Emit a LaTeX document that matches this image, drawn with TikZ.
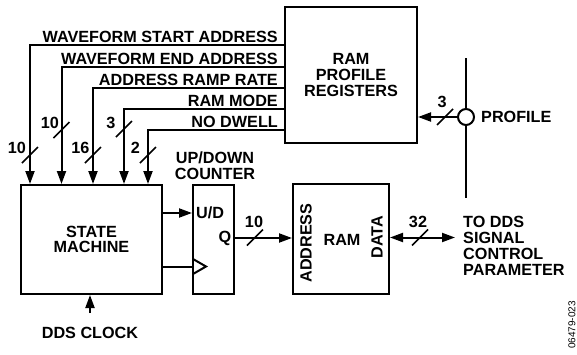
\documentclass[tikz,border=0pt]{standalone}
\usepackage{fontspec}
\setmainfont{Liberation Sans}
\usetikzlibrary{arrows.meta}
\begin{document}
\begin{tikzpicture}[x=1pt,y=-1pt,
  wire/.style={line width=2pt},
  arr/.style={wire,-{Triangle[length=13pt,width=9pt]}},
  darr/.style={wire,{Triangle[length=13pt,width=9pt]}-{Triangle[length=13pt,width=9pt]}},
  blk/.style={draw,line width=2pt,inner sep=0pt,minimum width=#1},
  lbl/.style={inner sep=0pt,font=\fontsize{16.2}{15.8}\selectfont\bfseries},
  slash/.pic={\draw[line width=1.6pt] (-8,8) -- (8,-8);}]
\useasboundingbox (0,0) rectangle (577,354);
% blocks
\node[blk=132pt,minimum height=136pt,lbl,align=center] (reg) at (351,75) {RAM\\PROFILE\\REGISTERS};
\node[blk=141pt,minimum height=109pt,lbl,align=center] (sm) at (91.5,239.5) {STATE\\MACHINE};
\node[blk=41pt,minimum height=109pt] (cnt) at (213.5,239.5) {};
\node[blk=96pt,minimum height=110pt] (ram) at (341,239) {};
\node[lbl,align=center] (cntl) at (215,165.5) {UP/DOWN\\COUNTER};
\node[lbl] (ud) at (210,213) {U/D};
\node[lbl] (q) at (225,238) {Q};
\node[lbl,rotate=90] (addr) at (306,243) {ADDRESS};
\node[lbl] (raml) at (342,240) {RAM};
\node[lbl,rotate=90] (data) at (377,237) {DATA};
\node[lbl,align=left,anchor=west] (todds) at (463,246) {TO DDS\\SIGNAL\\CONTROL\\PARAMETER};
\node[lbl] (ddsclk) at (90,333) {DDS CLOCK};
\node[lbl,anchor=west] (profl) at (481,117) {PROFILE};
\node[inner sep=0pt,rotate=90,font=\fontsize{10}{10}\selectfont] (fig) at (572,325) {06479-023};
% register outputs
\node[lbl,anchor=base east] (w1) at (278,42.5) {WAVEFORM START ADDRESS};
\node[lbl,anchor=base east] (w2) at (278,64) {WAVEFORM END ADDRESS};
\node[lbl,anchor=base east] (w3) at (278,85.5) {ADDRESS RAMP RATE};
\node[lbl,anchor=base east] (w4) at (278,106.5) {RAM MODE};
\node[lbl,anchor=base east] (w5) at (278,127.5) {NO DWELL};
\coordinate (t1) at (285,45);
\coordinate (t2) at (285,67);
\coordinate (t3) at (285,88);
\coordinate (t4) at (285,109);
\coordinate (t5) at (285,130);
\coordinate (e1) at (30,184);
\coordinate (e2) at (61.5,184);
\coordinate (e3) at (93,184);
\coordinate (e4) at (124,184);
\coordinate (e5) at (148,184);
\draw[arr] (t1) -| (e1);
\draw[arr] (t2) -| (e2);
\draw[arr] (t3) -| (e3);
\draw[arr] (t4) -| (e4);
\draw[arr] (t5) -| (e5);
\pic at (30,155) {slash};
\pic at (61.5,130) {slash};
\pic at (93,155) {slash};
\pic at (124,129) {slash};
\pic at (148,155) {slash};
\node[lbl] (n1) at (17,147.5) {10};
\node[lbl] (n2) at (50,122.5) {10};
\node[lbl] (n3) at (80.5,147.5) {16};
\node[lbl] (n4) at (111,122.5) {3};
\node[lbl] (n5) at (135.5,147.5) {2};
% state machine to counter
\draw[arr] (sm.east |- ud.center) -- (cnt.west |- ud.center);
\coordinate (ck) at (193,266.5);
\draw[wire] (sm.east |- ck) -- (ck);
\draw[wire,line join=miter] (ck) ++(0,-7.5) -- ++(13,7.5) -- ++(-13,7.5);
% counter to RAM
\draw[arr] (cnt.east |- q.center) -- (ram.west |- q.center);
\pic at (255,237.5) {slash};
\node[lbl] (n6) at (254,222) {10};
% RAM data
\coordinate (dd) at (455,237.5);
\draw[darr] (ram.east |- dd) -- (dd);
\pic at (420,237.5) {slash};
\node[lbl] (n7) at (418,222) {32};
% DDS clock
\coordinate (ckin) at (90,313);
\draw[arr] (ckin) -- (sm.south -| ckin);
% profile bus
\coordinate (bt) at (466,58);
\coordinate (bb) at (466,198);
\node[draw,circle,line width=2pt,minimum size=16pt,inner sep=0pt] (prof) at (466,117) {};
\draw[wire] (bt) -- (prof.north);
\draw[wire] (prof.south) -- (bb);
\draw[arr] (prof.west) -- (reg.east |- prof.west);
\pic at (445,117) {slash};
\node[lbl] (n8) at (442,102) {3};
\end{tikzpicture}
\end{document}
